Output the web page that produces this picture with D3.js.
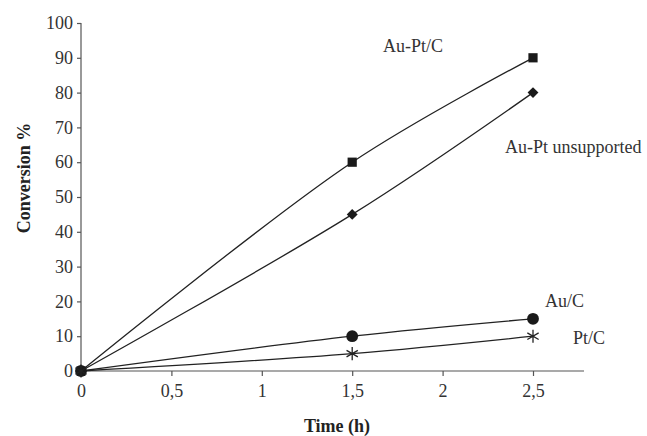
<!DOCTYPE html>
<html><head><meta charset="utf-8">
<script src="https://cdn.jsdelivr.net/npm/d3@7"></script>
<style>body{margin:0;background:#fff}</style>
</head><body>
<svg id="c" width="647" height="436"></svg>
<script>
const times = [0, 1.5, 2.5];
const auPtC = [0, 60, 90];
const auPtUnsupported = [0, 45, 80];
const auC = [0, 10, 15];
const ptC = [0, 5, 10];
const xTicks = [0, 0.5, 1, 1.5, 2, 2.5];
const yTicks = [0, 10, 20, 30, 40, 50, 60, 70, 80, 90, 100];
const seriesNames = ["Au-Pt/C", "Au-Pt unsupported", "Au/C", "Pt/C"];

const svg = d3.select("#c");
const x = d3.scaleLinear().domain([0, 2.5]).range([81, 533]);
const y = d3.scaleLinear().domain([0, 100]).range([371, 23]);
const font = "'Liberation Serif', 'Times New Roman', serif";
const tc = "#333";

// axes
const xAxis = svg.append("g").attr("transform", `translate(0,${y(0)})`)
  .call(d3.axisBottom(x).tickValues(xTicks).tickSize(5).tickPadding(8)
    .tickFormat(d => String(d).replace(".", ",")));
xAxis.select(".domain").attr("d", `M${x(0)},0H584`);
const yAxis = svg.append("g").attr("transform", `translate(${x(0)},0)`)
  .call(d3.axisLeft(y).tickValues(yTicks).tickSize(4).tickPadding(4));
yAxis.select(".domain").attr("d", `M0,${y(100)}V${y(0)}`);
svg.selectAll(".tick text").attr("font-family", font).attr("font-size", 18).attr("fill", tc);
svg.selectAll(".domain, .tick line").attr("stroke", "#555").attr("stroke-width", 1.2);

svg.append("text").attr("x", 337).attr("y", 432).attr("text-anchor", "middle")
  .attr("font-family", font).attr("font-weight", "bold").attr("font-size", 18).attr("fill", "#222")
  .text("Time (h)");
svg.append("text").attr("transform", "translate(30,178) rotate(-90)").attr("text-anchor", "middle")
  .attr("font-family", font).attr("font-weight", "bold").attr("font-size", 18).attr("fill", "#222")
  .text("Conversion %");

const series = [auPtC, auPtUnsupported, auC, ptC];
const line = d3.line().x((d, i) => x(times[i])).y(d => y(d)).curve(d3.curveCatmullRom.alpha(0.5));
series.forEach(s => {
  svg.append("path").attr("d", line(s)).attr("fill", "none").attr("stroke", "#222").attr("stroke-width", 1.3);
});

const markers = [d3.symbolSquare, d3.symbolDiamond2, d3.symbolCircle, d3.symbolAsterisk];
const sizes = [85, 75, 110, 120];
series.forEach((s, k) => {
  s.forEach((v, i) => {
    const g = svg.append("path")
      .attr("transform", `translate(${x(times[i])},${y(v)})`)
      .attr("d", d3.symbol().type(markers[k]).size(sizes[k])());
    if (k === 3) g.attr("fill", "none").attr("stroke", "#222").attr("stroke-width", 1.3);
    else g.attr("fill", "#1a1a1a");
  });
});

const labelPos = [[383, 52], [505, 153], [545, 307], [573, 344]];
seriesNames.forEach((n, k) => {
  svg.append("text").attr("x", labelPos[k][0]).attr("y", labelPos[k][1])
    .attr("font-family", font).attr("font-size", 18).attr("fill", tc).text(n);
});
</script>
</body></html>
